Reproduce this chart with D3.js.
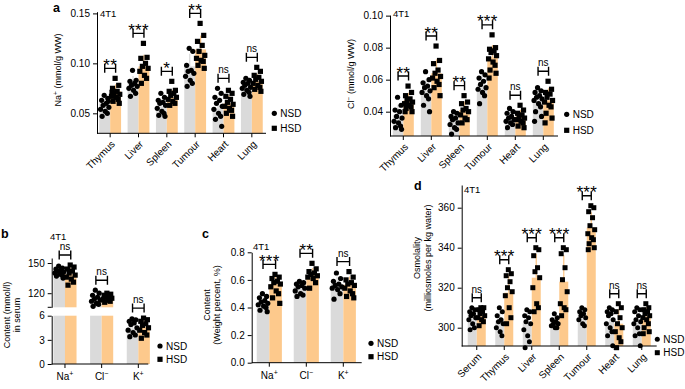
<!DOCTYPE html>
<html><head><meta charset="utf-8">
<script src="https://cdn.jsdelivr.net/npm/d3@7"></script>
<style>body{margin:0;background:#fff}svg{display:block}</style>
</head><body><svg id="c" width="685" height="389"></svg>
<script>
// ---------------- DATA ----------------
const naCats = ["Thymus","Liver","Spleen","Tumour","Heart","Lung"];
const naNSD = [
 [0.068,0.065,0.063,0.060,0.058,0.056,0.054,0.052,0.050,0.047,0.062],
 [0.093,0.083,0.082,0.080,0.078,0.077,0.075,0.073,0.070,0.067],
 [0.070,0.066,0.063,0.061,0.060,0.058,0.055,0.052,0.050,0.048,0.047],
 [0.115,0.112,0.098,0.093,0.092,0.090,0.087,0.083,0.080,0.077],
 [0.075,0.070,0.066,0.063,0.060,0.057,0.054,0.050,0.047,0.044,0.037],
 [0.085,0.083,0.081,0.080,0.078,0.076,0.075,0.073,0.071,0.069,0.067]];
const naHSD = [
 [0.085,0.078,0.075,0.072,0.070,0.069,0.067,0.066,0.064,0.062,0.060,0.071],
 [0.120,0.106,0.105,0.100,0.097,0.095,0.092,0.088,0.085,0.080],
 [0.082,0.073,0.072,0.070,0.068,0.066,0.064,0.062,0.060,0.058],
 [0.140,0.128,0.122,0.118,0.112,0.108,0.105,0.103,0.102,0.098,0.095],
 [0.073,0.070,0.067,0.064,0.061,0.059,0.057,0.055,0.053,0.050,0.047],
 [0.096,0.092,0.088,0.086,0.084,0.082,0.080,0.078,0.076,0.074,0.072]];
const naNSDMean = [0.060,0.080,0.057,0.097,0.055,0.078];
const naHSDMean = [0.072,0.097,0.066,0.114,0.060,0.082];
const naSig = ["**","***","*","**","ns","ns"];
const naTicks = [0.05,0.10,0.15];

const clCats = ["Thymus","Liver","Spleen","Tumour","Heart","Lung"];
const clNSD = [
 [0.049,0.044,0.041,0.040,0.037,0.036,0.034,0.033,0.031,0.030,0.029],
 [0.065,0.060,0.058,0.056,0.055,0.053,0.052,0.050,0.048,0.044,0.040],
 [0.040,0.039,0.037,0.036,0.035,0.033,0.032,0.030,0.029,0.026],
 [0.065,0.063,0.061,0.059,0.057,0.055,0.054,0.052,0.050,0.045],
 [0.042,0.040,0.039,0.037,0.036,0.035,0.034,0.033,0.032,0.030],
 [0.055,0.053,0.052,0.050,0.049,0.048,0.047,0.045,0.043,0.040,0.037,0.034]];
const clHSD = [
 [0.056,0.052,0.050,0.048,0.047,0.046,0.045,0.044,0.043,0.042,0.040,0.040],
 [0.081,0.072,0.070,0.066,0.064,0.062,0.061,0.059,0.057,0.055,0.050],
 [0.050,0.046,0.045,0.042,0.041,0.040,0.038,0.036,0.035,0.033],
 [0.088,0.080,0.079,0.078,0.077,0.075,0.073,0.071,0.069,0.066,0.064,0.061],
 [0.044,0.041,0.039,0.038,0.037,0.036,0.035,0.034,0.033,0.031,0.030],
 [0.059,0.054,0.052,0.051,0.049,0.047,0.046,0.044,0.043,0.039,0.036,0.033]];
const clNSDMean = [0.038,0.053,0.036,0.057,0.036,0.047];
const clHSDMean = [0.047,0.064,0.041,0.074,0.037,0.047];
const clSig = ["**","**","**","***","ns","ns"];
const clTicks = [0.04,0.06,0.08,0.10];

const bCats = ["Na⁺","Cl⁻","K⁺"];
const bNSD = [[147,145,144,143,142,141,140,139,138,137,135],
 [123,120,118,116,114,113,112,110,109,107],
 [5.6,5.5,5.3,5.1,4.9,4.5,4.2,3.9,3.6,3.4]];
const bHSD = [[148,146,144,142,140,138,136,134,131,128],
 [120,119,118,117,116,115,114,113,112,111],
 [5.7,5.5,5.3,5.0,4.8,4.5,4.2,3.9,3.6,3.2]];
const bNSDMean = [141,114,4.4];
const bHSDMean = [139,115,4.6];
const bSig = ["ns","ns","ns"];
const bTicksUpper = [120,150];
const bTicksLower = [0,3,6];

const cCats = ["Na⁺","Cl⁻","K⁺"];
const cNSD = [[0.50,0.48,0.47,0.45,0.44,0.43,0.42,0.41,0.40,0.38,0.37],
 [0.59,0.58,0.57,0.56,0.55,0.54,0.52,0.50,0.49,0.48],
 [0.65,0.61,0.59,0.57,0.56,0.55,0.54,0.53,0.50,0.46]];
const cHSD = [[0.64,0.62,0.61,0.59,0.58,0.57,0.55,0.52,0.50,0.47,0.43],
 [0.72,0.68,0.66,0.65,0.64,0.63,0.62,0.61,0.58,0.54],
 [0.66,0.62,0.60,0.58,0.57,0.56,0.54,0.52,0.50,0.48,0.47]];
const cNSDMean = [0.44,0.55,0.57];
const cHSDMean = [0.57,0.635,0.565];
const cSig = ["***","**","ns"];
const cTicks = [0,0.2,0.4,0.6,0.8];

const dCats = ["Serum","Thymus","Liver","Spleen","Tumour","Heart","Lung"];
const dNSD = [
 [310,309,308,307,306,305,304,302,300,299],
 [310,308,306,304,303,302,300,298,296],
 [309,308,306,305,303,302,299,296,293,290],
 [307,305,304,303,302,302,301,300,300],
 [310,309,308,307,306,305,304,302,301],
 [310,309,308,307,306,304,302,300,298,296,291],
 [310,309,308,306,304,303,302,300,297,296,291]];
const dHSD = [
 [310,310,309,308,307,306,305,304,303,301],
 [329,327,326,323,320,318,316,310,305,302],
 [340,339,336,330,328,325,320,312,310,308],
 [340,339,337,330,324,318,312,310,309,306],
 [361,360,358,355,351,349,347,345,344,342,340,339],
 [312,310,308,305,302,300,298,295,293,290],
 [312,310,309,308,307,306,305,304,302,300,298,297]];
const dNSDMean = [307,303.5,302.5,303.5,307.5,303,303];
const dHSDMean = [306,317.5,325,323,350,302,305.5];
const dSig = ["ns","***","***","***","***","ns","ns"];
const dTicks = [300,320,340,360];

const legendLabels = ["NSD","HSD"];
const cellLine = "4T1";

// ---------------- DRAWING ----------------
const FONT = "'Liberation Sans', Arial, Helvetica, sans-serif";
const GREY = "#dadada", ORANGE = "#fdc98c";
const svg = d3.select("#c").attr("font-family", FONT);
const jit = [-0.05,0.3,-0.3,0.15,-0.15,0.4,-0.4,0.05,0.25,-0.25,0.35,-0.35];
const supMap = {"⁺":"+","⁻":"−"};

function supText(sel, label, size) {
  const last = label.slice(-1);
  sel.text(null);
  if (supMap[last]) {
    sel.append("tspan").text(label.slice(0,-1));
    sel.append("tspan").attr("font-size", size*0.7).attr("dy", -size*0.4).text(supMap[last]);
  } else sel.text(label);
}

function styleAxis(a) {
  a.attr("font-family", FONT).attr("font-size", 10);
  a.selectAll(".domain").attr("stroke","#000").attr("stroke-width",1);
  a.selectAll(".tick line").attr("stroke","#000");
  a.selectAll("text").attr("fill","#000");
}

function panel(c) {
  const g = svg.append("g");
  const x = d3.scaleBand().domain(c.cats).range(c.band).paddingInner(c.pad).paddingOuter(c.pad/2);
  const bw = x.bandwidth()/2;
  const groups = [
    {pts:c.nsd, mean:c.nsdMean, col:GREY, off:0, shape:"circle"},
    {pts:c.hsd, mean:c.hsdMean, col:ORANGE, off:bw, shape:"square"}];
  groups.forEach(gr => {
    c.cats.forEach((cat,i) => {
      const x0 = x(cat) + gr.off;
      c.segs(gr.mean[i]).forEach(([t,b]) =>
        g.append("rect").attr("x",x0).attr("y",t).attr("width",bw).attr("height",b-t).attr("fill",gr.col));
      const sd = d3.deviation(gr.pts[i]);
      g.append("line").attr("x1",x0+bw/2).attr("x2",x0+bw/2)
        .attr("y1",c.y(gr.mean[i]+sd)).attr("y2",c.y(gr.mean[i]))
        .attr("stroke",gr.col).attr("stroke-width",1.3);
    });
  });
  groups.forEach(gr => {
    c.cats.forEach((cat,i) => {
      const cx = x(cat) + gr.off + bw/2;
      const pg = g.append("g");
      gr.pts[i].forEach((v,j) => {
        const px = cx + jit[j % jit.length]*bw*0.95, py = c.y(v);
        if (gr.shape === "circle") pg.append("circle").attr("cx",px).attr("cy",py).attr("r",c.r).attr("fill","#000");
        else pg.append("rect").attr("x",px-c.r).attr("y",py-c.r).attr("width",2*c.r).attr("height",2*c.r).attr("fill","#000");
      });
    });
  });
  c.yAxes.forEach(ax => {
    const a = g.append("g").attr("transform",`translate(${c.axisX},0)`)
      .call(d3.axisLeft(ax.scale).tickValues(ax.ticks).tickFormat(ax.fmt).tickSize(4).tickSizeOuter(0));
    styleAxis(a);
  });
  const xa = g.append("g").attr("transform",`translate(0,${c.axisY})`)
    .call(d3.axisBottom(x).tickSize(4).tickSizeOuter(0));
  styleAxis(xa);
  xa.select(".domain").remove();
  g.append("line").attr("x1",c.axisX).attr("x2",c.axisEnd).attr("y1",c.axisY).attr("y2",c.axisY)
    .attr("stroke","#000").attr("stroke-width",1);
  if (c.rotate) {
    xa.selectAll(".tick text").attr("text-anchor","end").attr("x",0).attr("y",0).attr("dy","0.35em")
      .attr("transform","translate(3,9) rotate(-45)");
  } else {
    xa.selectAll(".tick text").each(function(d){ supText(d3.select(this), d, 10); })
      .attr("y",9).attr("dy","0.71em");
  }
  c.cats.forEach((cat,i) => {
    const x1 = x(cat) + bw/2, x2 = x(cat) + bw*1.5;
    const top = Math.min(d3.min(c.nsd[i].map(c.y)), d3.min(c.hsd[i].map(c.y)));
    const by = top - 10;
    g.append("path").attr("d",`M${x1},${by-4.5}V${by+4.5}M${x1},${by}H${x2}M${x2},${by-4.5}V${by+4.5}`)
      .attr("stroke","#000").attr("stroke-width",1.4).attr("fill","none");
    const ns = c.sig[i] === "ns";
    g.append("text").attr("x",(x1+x2)/2).attr("y", ns ? by-5 : by+2.5)
      .attr("text-anchor","middle").attr("font-size", ns ? 10 : 17)
      .attr("letter-spacing", ns ? 0 : 0.3).text(c.sig[i]);
  });
  g.append("text").attr("x",c.cell[0]).attr("y",c.cell[1]).attr("font-size",9.5).text(cellLine);
  const [lx,ly,ld] = c.legend;
  g.append("circle").attr("cx",lx).attr("cy",ly).attr("r",c.r).attr("fill","#000");
  g.append("rect").attr("x",lx-c.r).attr("y",ly+ld-c.r).attr("width",2*c.r).attr("height",2*c.r).attr("fill","#000");
  legendLabels.forEach((t,k) => g.append("text").attr("x",lx+6).attr("y",ly+k*ld+3.6).attr("font-size",10).text(t));
  c.title.forEach(t => {
    const tx = g.append("text").attr("transform",`translate(${t.x},${t.y}) rotate(-90)`)
      .attr("text-anchor","middle").attr("font-size",9);
    if (t.sup) {
      tx.append("tspan").text(t.sup[0]);
      tx.append("tspan").attr("font-size",6.5).attr("dy",-3.5).text(t.sup[1]);
      tx.append("tspan").attr("dy",3.5).text(t.text);
    } else tx.text(t.text);
  });
  if (c.letter) g.append("text").attr("x",c.letter[0]).attr("y",c.letter[1]).attr("font-size",12.5)
    .attr("font-weight","bold").text(c.letter[2]);
  return g;
}

// Panel a – Na
const yNa = d3.scaleLinear().domain([0.03,0.1517]).range([133.3,11.7]);
panel({cats:naCats, nsd:naNSD, hsd:naHSD, nsdMean:naNSDMean, hsdMean:naHSDMean, sig:naSig,
  y:yNa, segs:v=>[[yNa(v),133.3]], band:[96,266], pad:0.23, axisX:97, axisEnd:266, axisY:133.3, rotate:true, r:2.6,
  yAxes:[{scale:yNa, ticks:naTicks, fmt:d3.format(".2f")}],
  cell:[100,17], legend:[274.3,113.3,15],
  title:[{x:61,y:70,sup:["Na","+"],text:" (mmol/g WW)"}], letter:[53,12,"a"]});

// Panel a – Cl
const yCl = d3.scaleLinear().domain([0.0248,0.1004]).range([136,15]);
panel({cats:clCats, nsd:clNSD, hsd:clHSD, nsdMean:clNSDMean, hsdMean:clHSDMean, sig:clSig,
  y:yCl, segs:v=>[[yCl(v),136]], band:[389.3,557.3], pad:0.25, axisX:390, axisEnd:558, axisY:136, rotate:true, r:2.6,
  yAxes:[{scale:yCl, ticks:clTicks, fmt:d3.format(".2f")}],
  cell:[393,17], legend:[566.7,114.3,16],
  title:[{x:354,y:74,sup:["Cl","−"],text:" (mmol/g WW)"}]});

// Panel b – serum (broken axis)
const yBU = d3.scaleLinear().domain([106,155]).range([307.3,258]);
const yBL = d3.scaleLinear().domain([0,6]).range([364,315.7]);
const yB = v => v > 50 ? yBU(v) : yBL(v);
const gb = panel({cats:bCats, nsd:bNSD, hsd:bHSD, nsdMean:bNSDMean, hsdMean:bHSDMean, sig:bSig,
  y:yB, segs:v=> v > 50 ? [[yBL(6),yBL(0)],[yBU(v),yBU(106)]] : [[yBL(v),yBL(0)]],
  band:[46.65,156.65], pad:0.37, axisX:51.7, axisEnd:148.3, axisY:364, rotate:false, r:2.6,
  yAxes:[{scale:yBU, ticks:bTicksUpper, fmt:d3.format("d")},{scale:yBL, ticks:bTicksLower, fmt:d3.format("d")}],
  cell:[50,240], legend:[160,346,13.3],
  title:[{x:10,y:315,text:"Content (mmol/l)"},{x:20,y:315,text:"in serum"}], letter:[1,238,"b"]});
gb.append("line").attr("x1",47.7).attr("x2",51.7).attr("y1",yBU(106)).attr("y2",yBU(106)).attr("stroke","#000");

// Panel c – weight percent
const yC = d3.scaleLinear().domain([0,0.8]).range([362.7,252.3]);
panel({cats:cCats, nsd:cNSD, hsd:cHSD, nsdMean:cNSDMean, hsdMean:cHSDMean, sig:cSig,
  y:yC, segs:v=>[[yC(v),362.7]], band:[250.8,361.8], pad:0.32, axisX:251.7, axisEnd:361.7, axisY:362.7, rotate:false, r:2.6,
  yAxes:[{scale:yC, ticks:cTicks, fmt:d3.format(".1f")}],
  cell:[253,250], legend:[371,343.3,13.4],
  title:[{x:210,y:305,text:"Content"},{x:220,y:305,text:"(Weight percent, %)"}], letter:[202,238,"c"]});

// Panel d – osmolality
const yD = d3.scaleLinear().domain([290.85,371.35]).range([346,185]);
panel({cats:dCats, nsd:dNSD, hsd:dHSD, nsdMean:dNSDMean, hsdMean:dHSDMean, sig:dSig,
  y:yD, segs:v=>[[yD(v),346]], band:[463,655.5], pad:0.345, axisX:461.7, axisEnd:656.7, axisY:346, rotate:true, r:2.5,
  yAxes:[{scale:yD, ticks:dTicks, fmt:d3.format("d")}],
  cell:[464,193], legend:[657.3,339.3,13.4],
  title:[{x:420,y:258,text:"Osmolality"},{x:431,y:258,text:"(milliosmoles per kg water)"}], letter:[414,190,"d"]});
</script></body></html>
